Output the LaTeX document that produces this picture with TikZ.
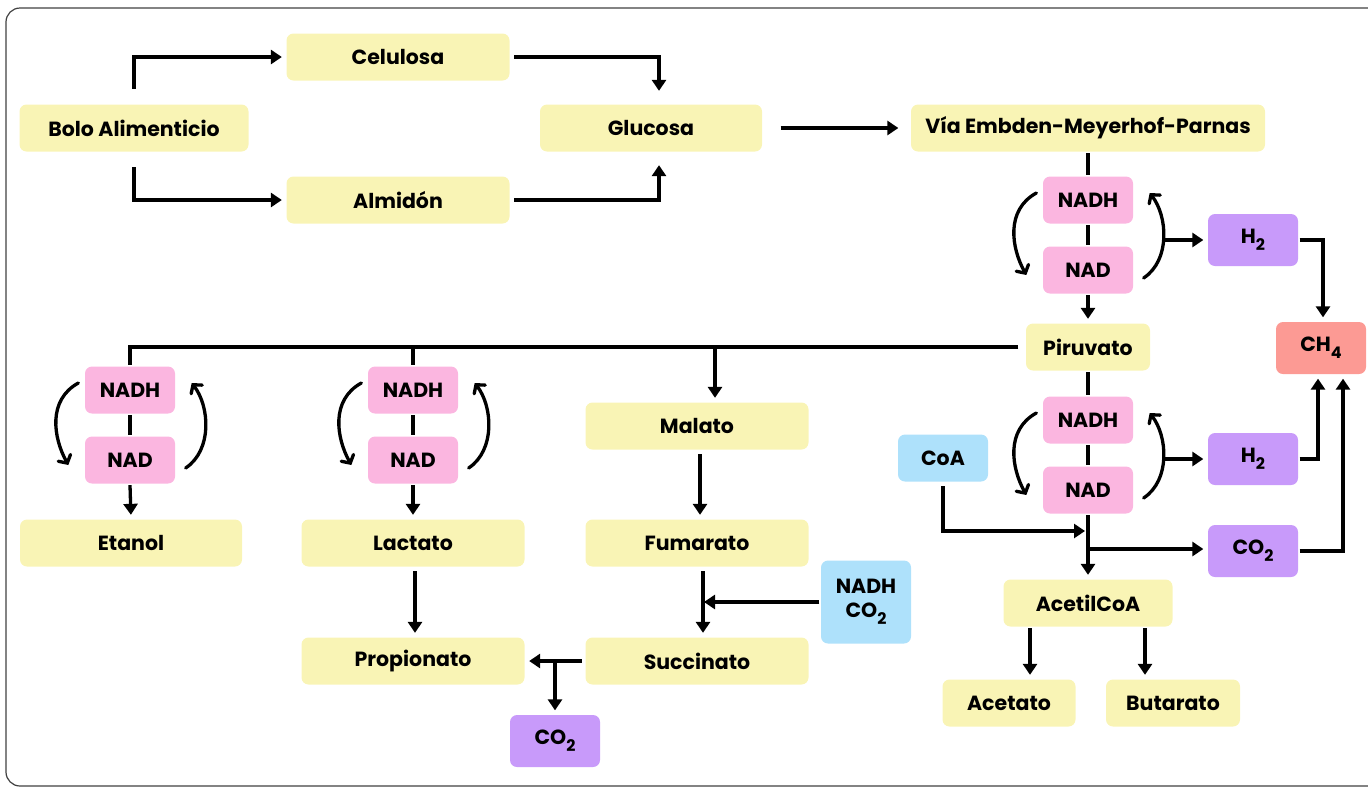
\documentclass[tikz,border=0pt]{standalone}
\usepackage{fontspec}
\setmainfont{Poppins}
\usetikzlibrary{arrows.meta,calc}
\definecolor{yel}{HTML}{F9F4B5}
\definecolor{pnk}{HTML}{FBB6E0}
\definecolor{prp}{HTML}{C89AFA}
\definecolor{blu}{HTML}{AEE1FB}
\definecolor{sal}{HTML}{FC9A94}
\newcommand{\chsub}[1]{\raisebox{-0.6ex}{\fontsize{16}{16}\selectfont #1}}
% two curved arrows round a NADH/NAD pair
\newcommand{\redox}[1]{
 \draw[barb] ($(#1.west)+(-5,-7)$) .. controls ($(#1.west)+(-36,10)$) and ($(#1.west)+(-30,48)$) .. ($(#1.west)+(-15,75)$);
 \draw[barb] ($(#1.east)+(9,78)$) .. controls ($(#1.east)+(36,60)$) and ($(#1.east)+(33,16)$) .. ($(#1.east)+(15,-7)$);
}
\tikzset{
 box/.style={rectangle,rounded corners=7,inner sep=0,minimum height=47,minimum width=90,
  font=\fontsize{20.5}{24}\selectfont\bfseries,text=black},
 yb/.style={box,fill=yel},
 pb/.style={box,fill=pnk},
 vb/.style={box,fill=prp,minimum height=52},
 bb/.style={box,fill=blu},
 arr/.style={-{Triangle[length=11,width=14]},shorten >=3},
 barb/.style={-{Straight Barb[length=6,width=14,line cap=round]},line cap=round},
}
\begin{document}
\begin{tikzpicture}[x=1pt,y=-1pt,line width=3.3]
\useasboundingbox (0,0) rectangle (1368,788);
\draw[line width=1.2,black!75,rounded corners=14] (1390,8) -- (6,8) -- (6,786) -- (1390,786);

% top row
\node[yb,minimum width=229] (bolo) at (134,128) {Bolo Alimenticio};
\node[yb,minimum width=223] (celu) at (398,57) {Celulosa};
\node[yb,minimum width=223] (almi) at (398,200) {Almidón};
\node[yb,minimum width=222] (gluc) at (651,128) {Glucosa};
\node[yb,minimum width=354] (emp) at (1088,128) {Vía Embden-Meyerhof-Parnas};

\draw[arr] ($(bolo.north)+(0,-14)$) |- (celu.west);
\draw[arr] ($(bolo.south)+(0,14)$) |- (almi.west);
\draw[arr] ($(celu.east)+(3,0)$) -| ($(gluc.north)+(8,-9)$);
\draw[arr] ($(almi.east)+(3,0)$) -| ($(gluc.south)+(8,9)$);
\draw[arr] ($(gluc.east)+(17,0)$) -- ($(emp.west)+(-8,0)$);

% right column
\node[pb] (nadhA) at (1088,200) {NADH};
\node[pb] (nadA) at (1088,270) {NAD};
\node[yb,minimum width=124] (piru) at (1088,347) {Piruvato};
\node[pb] (nadhB) at (1088,420) {NADH};
\node[pb] (nadB) at (1088,490) {NAD};
\node[vb] (hA) at (1253,240) {H\chsub{2}};
\node[vb] (hB) at (1253,459) {H\chsub{2}};
\node[vb] (co2A) at (1253,551) {CO\chsub{2}};
\node[box,fill=sal,minimum height=52] (ch4) at (1321,348) {CH\chsub{4}};
\node[bb] (coa) at (943,458) {CoA};
\node[yb,minimum width=169] (acet) at (1088,603) {AcetilCoA};
\node[yb,minimum width=133] (acetato) at (1009,703) {Acetato};
\node[yb,minimum width=134] (butarato) at (1173,703) {Butarato};

\draw (emp.south) -- (nadhA.north) (nadhA) -- (nadA);
\draw[arr] (nadA.south) -- (piru.north);
\draw (piru.south) -- (nadhB.north) (nadhB) -- (nadB);
\draw[arr] (nadB.south) -- (acet.north);
\redox{nadhA}
\redox{nadhB}
\draw[arr] ($(nadhA.east)+(28,40)$) -- (hA.west);
\draw[arr] ($(nadhB.east)+(28,39)$) -- (hB.west);
\coordinate (ja) at (1088,531);
\coordinate (jb) at (1088,549);
\draw[arr] ($(coa.south)+(0,3)$) |- (ja);
\draw[arr] (jb) -- (jb -| co2A.west);
\draw[arr] (hA.east) -| ([xshift=2]ch4.north);
\draw[arr] (hB.east) -| ([xshift=-3]ch4.south);
\draw[arr] (co2A.east) -| ([xshift=22]ch4.south);
\draw[arr] ([xshift=-58]acet.south) -- ([xshift=21]acetato.north);
\draw[arr] ([xshift=57]acet.south) -- ([xshift=-28]butarato.north);

% left branches
\node[pb] (nadhE) at (130,390) {NADH};
\node[pb] (nadE) at (130,460) {NAD};
\node[yb,minimum width=222] (etanol) at (131,543) {Etanol};
\node[pb] (nadhL) at (413,390) {NADH};
\node[pb] (nadL) at (413,460) {NAD};
\node[yb,minimum width=223] (lact) at (413,543) {Lactato};
\node[yb,minimum width=223] (prop) at (413,661) {Propionato};
\node[yb,minimum width=223] (mala) at (697,426) {Malato};
\node[yb,minimum width=223] (fuma) at (697,543) {Fumarato};
\node[yb,minimum width=223] (succ) at (697,661) {Succinato};
\node[bb,minimum height=83,align=center] (nadhco2) at (866,602) {NADH\\CO\chsub{2}};
\node[vb] (co2B) at (555,741) {CO\chsub{2}};

\draw ($(piru.west)+(-6,0)$) -| (nadhE.north);
\draw (nadhL.north) -- (nadhL.north |- piru.west);
\coordinate (jm) at (715,347);
\draw[arr] (jm) -- (jm |- mala.north);
\draw (nadhE) -- (nadE) (nadhL) -- (nadL);
\draw[arr] (nadE.south) -- (etanol.north);
\draw[arr] (nadL.south) -- (lact.north);
\redox{nadhE}
\redox{nadhL}
\draw[arr] ($(lact.south)+(2,3)$) -- ($(prop.north)+(2,0)$);
\draw[arr] ($(mala.south)+(3,3)$) -- ($(fuma.north)+(3,0)$);
\draw[arr] ($(fuma.south)+(6,3)$) -- ($(succ.north)+(6,0)$);
\draw[arr,shorten >=1] (nadhco2.west) -- ($(nadhco2.west -| succ.north)+(6,0)$);
\draw[arr] ($(succ.west)+(-2,0)$) -- (prop.east);
\draw[arr] (co2B.north |- succ.west) -- (co2B.north);
\end{tikzpicture}
\end{document}
